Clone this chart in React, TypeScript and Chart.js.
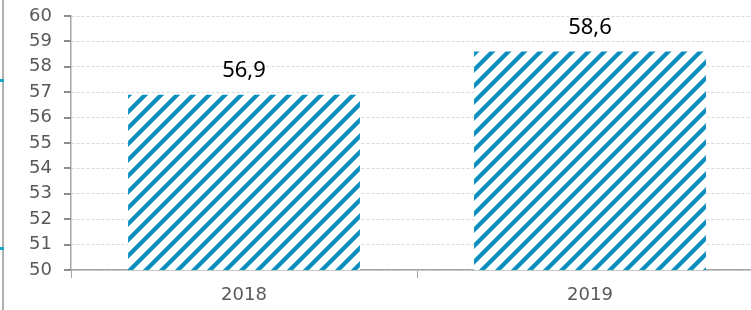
import React, { useEffect, useRef } from "react";
import { Chart, registerables } from "chart.js";

Chart.register(...registerables);

const categories = ["2018", "2019"];
const values = [56.9, 58.6];
const yMin = 50;
const yMax = 60;
const yStep = 1;

function makePattern(): CanvasPattern | string {
  const size = 16;
  const c = document.createElement("canvas");
  c.width = size;
  c.height = size;
  const g = c.getContext("2d");
  if (!g) return "#0a8dbf";
  g.fillStyle = "#ffffff";
  g.fillRect(0, 0, size, size);
  g.strokeStyle = "#0a8dbf";
  g.lineWidth = 4.2;
  g.lineCap = "square";
  const segs = [
    [-size, size, size, -size],
    [0, size, size, 0],
    [0, 2 * size, 2 * size, 0],
  ];
  for (const s of segs) {
    g.beginPath();
    g.moveTo(s[0], s[1]);
    g.lineTo(s[2], s[3]);
    g.stroke();
  }
  const p = g.createPattern(c, "repeat");
  return p || "#0a8dbf";
}

const labelPlugin = {
  id: "valueLabels",
  afterDatasetsDraw(chart: any) {
    const ctx = chart.ctx;
    const meta = chart.getDatasetMeta(0);
    ctx.save();
    ctx.font = '22px "Noto Sans"';
    ctx.fillStyle = "#000000";
    ctx.textAlign = "center";
    ctx.textBaseline = "alphabetic";
    meta.data.forEach((el: any, i: number) => {
      const txt = values[i].toFixed(1).replace(".", ",");
      ctx.fillText(txt, el.x, el.y - 18);
    });
    ctx.restore();
  },
  afterDraw(chart: any) {
    const ctx = chart.ctx;
    const ys = chart.scales.y;
    const axisX = chart.chartArea.left;
    ctx.save();
    ctx.fillStyle = "#8c8c8c";
    ys.ticks.forEach((t: any) => {
      const py = Math.round(ys.getPixelForValue(t.value));
      ctx.fillRect(axisX - 7, py - 1, 7, 2);
    });
    ctx.restore();
  },
};

export default function App() {
  const ref = useRef<HTMLCanvasElement>(null);
  useEffect(() => {
    if (!ref.current) return;
    const pattern = makePattern();
    const chart = new Chart(ref.current, {
      type: "bar",
      data: {
        labels: categories,
        datasets: [
          {
            data: values,
            backgroundColor: pattern as any,
            borderWidth: 0,
            categoryPercentage: 1,
            barPercentage: 0.67,
          },
        ],
      },
      options: {
        animation: false,
        responsive: false,
        maintainAspectRatio: false,
        layout: { padding: { top: 16, right: 7, left: 0, bottom: 0 } },
        plugins: { legend: { display: false }, tooltip: { enabled: false } },
        scales: {
          x: {
            grid: {
              offset: true,
              drawOnChartArea: false,
              tickLength: 8,
              color: "#a6a6a6",
            },
            border: { color: "#a6a6a6", width: 1.5 },
            ticks: {
              color: "#595959",
              font: { family: "DejaVu Sans", size: 18 },
              padding: 7,
            },
            afterFit(scale: any) {
              scale.height = 40;
              scale.paddingLeft = 0;
              scale.paddingRight = 0;
            },
          },
          y: {
            min: yMin,
            max: yMax,
            grid: {
              color: "#d9d9d9",
              tickLength: 7,
              drawTicks: false,
            },
            border: { color: "#a6a6a6", width: 1.5, dash: [3, 2] },
            ticks: {
              stepSize: yStep,
              color: "#595959",
              font: { family: "DejaVu Sans", size: 18 },
              padding: 19,
            },
            afterFit(scale: any) {
              scale.width = 71;
              scale.paddingTop = 0;
              scale.paddingBottom = 0;
            },
          },
        },
      },
      plugins: [labelPlugin],
    });
    return () => chart.destroy();
  }, []);
  return (
    <div
      style={{
        position: "absolute",
        left: 0,
        top: 0,
        width: 751,
        height: 310,
        overflow: "hidden",
        background: "#ffffff",
      }}
    >
      <canvas
        ref={ref}
        width={770}
        height={310}
        style={{ position: "absolute", left: 0, top: 0, width: 770, height: 310 }}
      />
      <div
        style={{
          position: "absolute",
          left: 2,
          top: 0,
          width: 2,
          height: 310,
          background: "#b0b0b0",
        }}
      />
      <div
        style={{ position: "absolute", left: 0, top: 79, width: 4, height: 3, background: "#1aa6c8" }}
      />
      <div
        style={{ position: "absolute", left: 0, top: 247, width: 4, height: 3, background: "#1aa6c8" }}
      />
    </div>
  );
}
